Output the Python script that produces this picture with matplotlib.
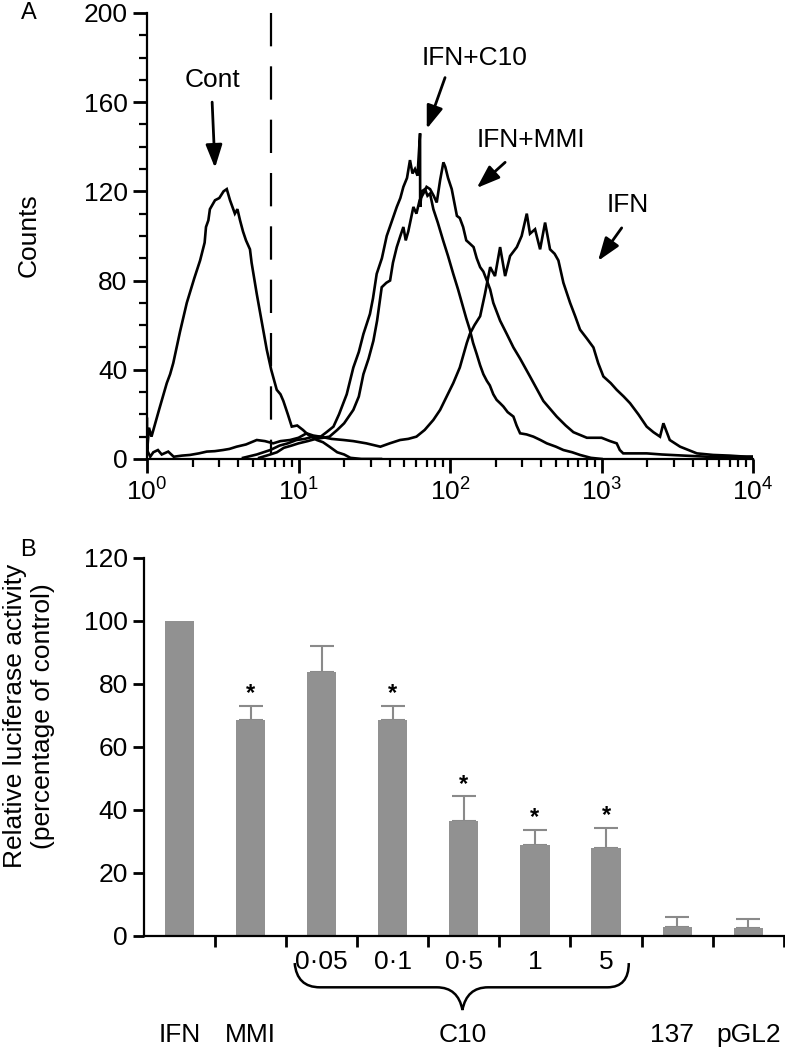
import numpy as np
import matplotlib
matplotlib.use('Agg')
from matplotlib import pyplot as plt, ticker
from matplotlib.path import Path
from matplotlib.patches import PathPatch

plt.rcParams['font.family'] = ['Liberation Sans', 'DejaVu Sans']
plt.rcParams['axes.linewidth'] = 1.6

# ---- Панель A: гістограми проточної цитометрії ----
cont_x = [1.0, 1.0, 1.03, 1.07, 1.2, 1.35, 1.42, 1.49, 1.65, 1.83, 2.05, 2.24, 2.4, 2.45,
          2.54, 2.6, 2.81, 3.0, 3.2, 3.36, 3.53, 3.8, 3.95, 4.11, 4.3, 4.5, 4.78, 4.9,
          5.3, 5.7, 6.17, 6.6, 7.18, 7.6, 7.94, 8.5, 9.02, 9.8, 10.7, 11.5, 13.2, 14.5,
          16, 18, 20, 22, 26, 35]
cont_y = [18, 3, 14, 10, 22, 34, 38, 43, 57, 70, 81, 89, 97, 104,
          107, 112, 116, 117, 120, 121, 116, 110, 112, 107, 102, 98, 94, 88,
          74, 62, 49, 40, 31, 29, 26, 20, 14.5, 15, 13, 11, 8.5, 7.5,
          5.5, 3, 2, 0.5, 0, 0]

ifn_x = [1.0, 1.05, 1.1, 1.18, 1.25, 1.38, 1.5, 1.7, 1.92, 2.2, 2.48, 2.8, 3.17, 3.5,
         3.9, 4.5, 5.3, 6.0, 6.8, 7.6, 8.8, 10, 11.3, 12.5, 13.9, 16.5, 19.8, 23, 28,
         34.7, 40, 46.8, 53, 60, 68, 77.6, 86, 95, 105, 116, 129, 135, 145, 158, 170,
         184, 198, 214, 231, 249, 276, 297, 321, 337, 364, 393, 424, 457, 490, 519,
         560, 620, 670, 721, 800, 884, 950, 1028, 1150, 1259, 1400, 1542, 1750, 1986,
         2200, 2432, 2560, 2820, 3300, 4260, 5450, 7000, 9080, 10000]
ifn_y = [4, 1, 3, 4, 2, 3.3, 1, 1.5, 1.8, 2.5, 3.3, 3.5, 4, 4.5,
         5.5, 6.5, 8.5, 8, 7, 8, 8.5, 9.5, 11.5, 10.5, 10, 9, 8.5, 8, 7,
         5.5, 7, 8.5, 9, 10, 13, 17.5, 22, 28, 34, 41, 52, 56, 60, 64, 74,
         86, 82, 95, 82, 91, 95, 100, 110, 101, 103, 94, 106, 94, 92, 89,
         79, 70, 64, 58, 54, 50, 43, 37, 34, 31, 28, 25, 20, 14.5,
         12, 10, 16, 8.5, 5.5, 2.5, 1.8, 1.5, 1, 1]

mmi_x = [5.5, 6.5, 7.2, 8, 9, 10, 11.5, 13, 14.5, 16, 18, 20, 23, 25, 26.8, 29, 31.2,
         33, 35.4, 38, 40.2, 42, 44.5, 47, 49.2, 51, 53, 57.3, 60, 63, 66.7, 70, 73.8,
         78, 81.7, 86, 90.4, 93, 97, 102.6, 106, 111, 116, 122, 128, 133, 143, 150,
         158, 166, 175, 184, 193, 214, 237, 262, 290, 337, 413, 506, 580, 652, 800,
         1000, 1138, 1259, 1320, 1390, 1600, 1986, 2500, 3500, 5000, 10000]
mmi_y = [0.5, 2, 3, 5, 6, 7, 8, 9, 9.5, 10, 13, 16, 22, 28, 38, 45, 53,
         62, 77, 79, 80, 88, 95, 100, 104, 98, 102, 113, 110, 116, 119, 122, 121,
         118, 115, 125, 133, 131, 126, 121, 116, 109, 108, 104, 98, 97, 95, 90,
         86, 84, 80, 76, 70, 62, 56, 50, 45, 37, 26, 19, 15, 12, 9.5,
         9.5, 8, 7, 4, 2.5, 2.5, 2.5, 2, 1.5, 1, 1]

c10_x = [4.3, 5.3, 6.5, 7.5, 8.5, 9.7, 11, 12.5, 14, 15.3, 17, 18.5, 20.8, 23, 25, 26.8,
         29.6, 31, 32.8, 35.5, 38.2, 41, 44.5, 47, 49.2, 52, 54.4, 56.5, 58.7, 61, 63.4,
         63.5, 65, 68.4, 71, 73.8, 77.6, 83, 90, 97, 105, 113, 122, 128, 135, 142, 150,
         158, 166, 175, 183, 193, 203, 214, 225, 240, 262, 275, 290, 320, 355, 395,
         435, 500, 560, 640, 721, 850, 1000]
c10_y = [0.5, 2, 4, 6, 7, 8.5, 9, 10, 10, 12, 14.5, 20, 29, 41, 48, 56,
         65, 72, 83, 90, 100, 106, 113, 117, 122, 126, 134, 128, 130, 127, 146,
         113, 120, 121, 118, 119, 112, 106, 98, 91, 83, 76, 68, 63, 58, 52, 47,
         42, 38, 35, 33, 29, 26.5, 25, 23.5, 21, 19, 15, 11.5, 11, 10, 8.5,
         7, 5.5, 4, 3, 1.8, 0.5, 0]

gate_x = 6.55

# ---- Панель B: люциферазна активність ----
groups = ['IFN', 'MMI', '0·05', '0·1', '0·5', '1', '5', '137', 'pGL2']
activity = [100, 68.5, 83.8, 68.5, 36.4, 29, 27.9, 2.8, 2.5]
activity_err = [0, 4.5, 8.2, 4.5, 7.9, 4.8, 6.4, 3.2, 2.8]
significant = [False, True, False, True, True, True, True, False, False]
c10_doses = ['0·05', '0·1', '0·5', '1', '5']

fs = 19
fig = plt.figure(figsize=(7.85, 10.5), dpi=100)

ax1 = fig.add_axes([0.1873, 0.5629, 0.772, 0.4248])
for xs, ys in ((cont_x, cont_y), (ifn_x, ifn_y), (mmi_x, mmi_y), (c10_x, c10_y)):
    ax1.plot(xs, ys, c='k', lw=1.9, solid_joinstyle='miter')
ax1.plot([gate_x, gate_x], [200, 2], c='k', lw=1.6, ls=(0, (15, 9)))
ax1.set_xscale('log')
ax1.set_xlim(1, 1e4)
ax1.set_ylim(0, 200)
ax1.yaxis.set_major_locator(ticker.MultipleLocator(40))
ax1.yaxis.set_minor_locator(ticker.MultipleLocator(10))
ax1.xaxis.set_major_locator(ticker.LogLocator(base=10, numticks=10))
ax1.xaxis.set_minor_locator(ticker.LogLocator(base=10, subs=np.arange(2, 10), numticks=50))
ax1.xaxis.set_minor_formatter(ticker.NullFormatter())
ax1.tick_params(which='major', length=10, width=2, labelsize=fs, pad=4)
ax1.tick_params(which='minor', length=6, width=1.6)
for s in ('top', 'right'):
    ax1.spines[s].set_visible(False)

arr = dict(arrowstyle='-|>,head_length=0.7,head_width=0.25', color='k', lw=2,
           mutation_scale=20, shrinkA=0, shrinkB=0)
for label, txt_xy, tail, tip in (('Cont', (2.69, 170), (2.69, 160), (2.81, 130.5)),
                                 ('IFN+C10', (146, 180), (92.7, 171), (70.2, 148)),
                                 ('IFN+MMI', (343, 143), (231, 133), (150, 121.5)),
                                 ('IFN', (1496, 114), (1358, 103.6), (948, 88.8))):
    ax1.text(*txt_xy, label, fontsize=fs, ha='center', va='center')
    ax1.annotate('', xy=tip, xytext=tail, arrowprops=arr)

fig.text(0.036, 1 - 235/1050, 'Counts', rotation=90, ha='center', va='center', fontsize=fs)
fig.text(0.037, 1 - 13/1050, 'A', ha='center', va='center', fontsize=17)

# ---- Панель B ----
ax2 = fig.add_axes([0.1834, 0.1086, 0.815, 0.36])
pos = np.arange(len(groups)) + 0.5
ax2.bar(pos, activity, width=0.41, color='#919191', zorder=2)
err_pos = [p for p, e in zip(pos, activity_err) if e > 0]
err_val = [a for a, e in zip(activity, activity_err) if e > 0]
err_up = [e for e in activity_err if e > 0]
ax2.errorbar(err_pos, err_val, yerr=[np.zeros(len(err_up)), err_up], fmt='none',
             ecolor='#8a8a8a', elinewidth=1.5, capsize=8.5, capthick=1.5, zorder=1)
for p, a, e, sig in zip(pos, activity, activity_err, significant):
    if sig:
        ax2.text(p, a + e + 0.2, '*', ha='center', va='bottom', fontsize=17,
                 fontweight='bold')
ax2.set_xlim(0, 9)
ax2.set_ylim(0, 120)
ax2.yaxis.set_major_locator(ticker.MultipleLocator(20))
ax2.set_xticks(np.arange(1, 10))
ax2.set_xticklabels([])
ax2.tick_params(length=8, width=2, labelsize=fs)
for s in ('top', 'right'):
    ax2.spines[s].set_visible(False)

for g in c10_doses:
    ax2.text(pos[groups.index(g)], -8.3, g, ha='center', va='center', fontsize=fs,
             clip_on=False)
for name, xp in (('IFN', pos[0]), ('MMI', pos[1]), ('C10', 4.48),
                 ('137', pos[7] - 0.07), ('pGL2', pos[8])):
    ax2.text(xp, -31.4, name, ha='center', va='center', fontsize=fs, clip_on=False)

# фігурна дужка під дозами C10
yb0, yb1, yb2 = -8.6, -16.3, -23.5
verts = [(2.12, yb0), (2.15, yb1), (2.475, yb1),
         (4.12, yb1),
         (4.42, yb1), (4.48, yb2),
         (4.54, yb1), (4.84, yb1),
         (6.52, yb1),
         (6.82, yb1), (6.82, yb0)]
codes = [Path.MOVETO, Path.CURVE3, Path.CURVE3, Path.LINETO, Path.CURVE3, Path.CURVE3,
         Path.CURVE3, Path.CURVE3, Path.LINETO, Path.CURVE3, Path.CURVE3]
ax2.add_patch(PathPatch(Path(verts, codes), fc='none', ec='k', lw=1.8,
                        transform=ax2.transData, clip_on=False))

fig.text(0.037, 1 - 716/1050, 'Relative luciferase activity\n(percentage of control)',
         rotation=90, ha='center', va='center', fontsize=fs, multialignment='center',
         linespacing=1.25)
fig.text(0.035, 1 - 550/1050, 'B', ha='center', va='center', fontsize=17)

fig.savefig('out.png', dpi=100)
